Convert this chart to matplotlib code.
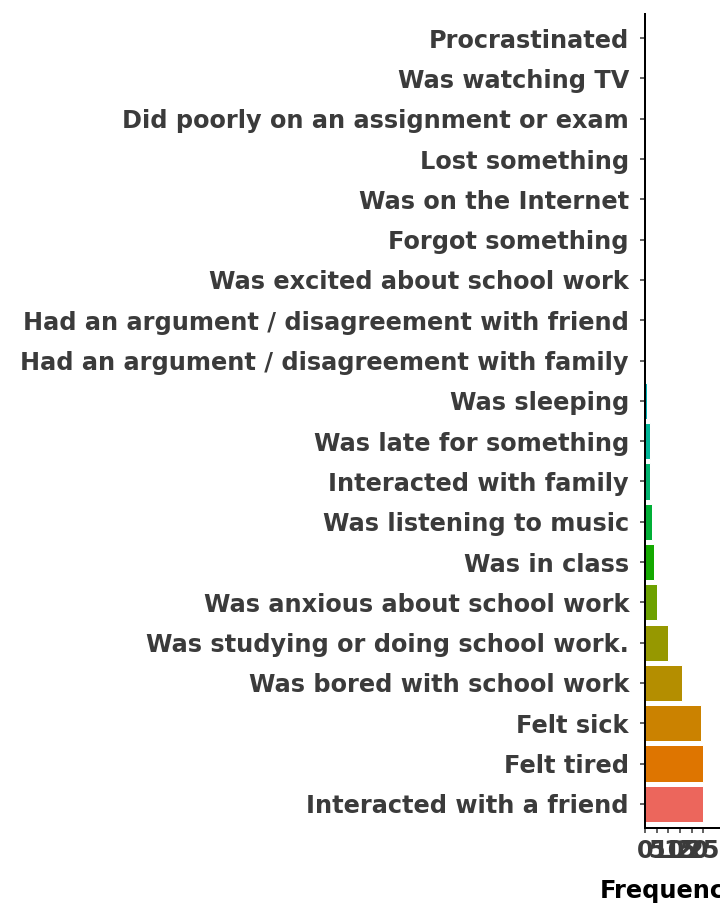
import numpy as np
import matplotlib
matplotlib.use('Agg')
import matplotlib.pyplot as plt

# bottom to top
activities = [
    'Interacted with a friend',
    'Felt tired',
    'Felt sick',
    'Was bored with school work',
    'Was studying or doing school work.',
    'Was anxious about school work',
    'Was in class',
    'Was listening to music',
    'Interacted with family',
    'Was late for something',
    'Was sleeping',
    'Had an argument / disagreement with family',
    'Had an argument / disagreement with friend',
    'Was excited about school work',
    'Forgot something',
    'Was on the Internet',
    'Lost something',
    'Did poorly on an assignment or exam',
    'Was watching TV',
    'Procrastinated',
]
frequency = [25, 25, 24, 16, 10, 5, 4, 3, 2, 2, 1, 0, 0, 0, 0, 0, 0, 0, 0, 0]
x_ticks = [0, 5, 10, 15, 20, 25]


def hue_pal(n, l=60, c=105):
    # ggplot-like hue palette (polar Luv -> sRGB)
    hues = np.linspace(15, 375, n + 1)[:n]
    xn, yn, zn = 95.047, 100.0, 108.883
    un = 4 * xn / (xn + 15 * yn + 3 * zn)
    vn = 9 * yn / (xn + 15 * yn + 3 * zn)
    out = []
    for h in hues:
        u = c * np.cos(np.radians(h))
        v = c * np.sin(np.radians(h))
        Y = yn * ((l + 16) / 116) ** 3
        up = u / (13 * l) + un
        vp = v / (13 * l) + vn
        X = Y * 9 * up / (4 * vp)
        Z = Y * (12 - 3 * up - 20 * vp) / (4 * vp)
        X, Y, Z = X / 100, Y / 100, Z / 100
        r = 3.2404542 * X - 1.5371385 * Y - 0.4985314 * Z
        g = -0.9692660 * X + 1.8760108 * Y + 0.0415560 * Z
        b = 0.0556434 * X - 0.2040259 * Y + 1.0572252 * Z
        rgb = []
        for ch in (r, g, b):
            ch = 12.92 * ch if ch <= 0.0031308 else 1.055 * ch ** (1 / 2.4) - 0.055
            rgb.append(min(max(ch, 0), 1))
        out.append(tuple(rgb))
    return out


colors = hue_pal(len(activities))

plt.rcParams['font.family'] = ['DejaVu Sans']

fig = plt.figure(figsize=(10, 921 / 72), dpi=72)
W, H = 720, 921
ax = fig.add_axes([645 / W, 1 - 828 / H, (720 - 645) / W, (828 - 14) / H])

y = np.arange(len(activities))
ax.barh(y, frequency, height=0.9, color=colors, edgecolor='white', linewidth=1)

ax.set_ylim(-0.6, len(activities) - 0.4)
ax.set_xlim(0, 25 * 75 / 58.3)
ax.set_yticks(y)
ax.set_yticklabels(activities, fontsize=24, fontweight='bold', color='#3b3b3b')
ax.set_xticks(x_ticks)
ax.set_xticklabels([str(t) for t in x_ticks], fontsize=24, fontweight='bold', color='#3b3b3b')

for s in ['top', 'right']:
    ax.spines[s].set_visible(False)
ax.spines['left'].set_linewidth(2)
ax.spines['bottom'].set_linewidth(2)
ax.tick_params(axis='both', length=5, width=1.5, color='#333333')
ax.tick_params(axis='y', pad=11)
ax.tick_params(axis='x', pad=6)

fig.text(600 / W, 1 - 898 / H, 'Frequency', fontsize=24, fontweight='bold',
         color='black', ha='left', va='baseline')

fig.savefig('out.png', dpi=72)
